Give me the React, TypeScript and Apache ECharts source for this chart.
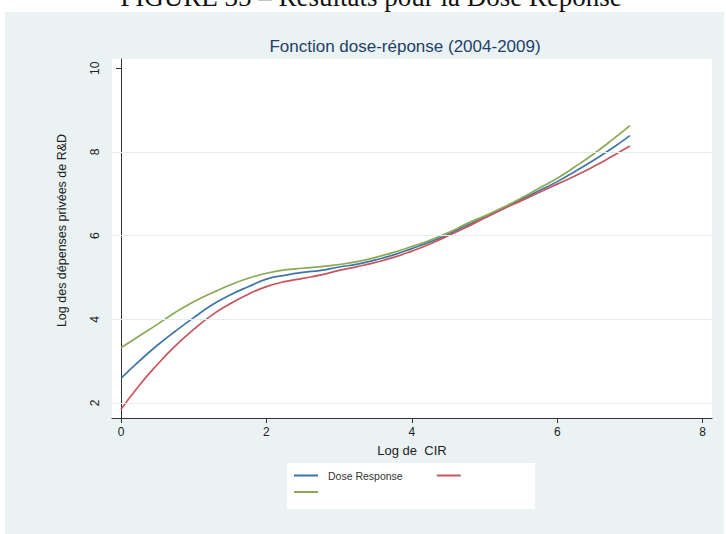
import React, { useEffect, useRef } from "react";
import * as echarts from "echarts";

const xs = [0, 0.25, 0.5, 0.75, 1, 1.25, 1.5, 1.75, 2, 2.25, 2.5, 2.75, 3, 3.25, 3.5, 3.75, 4, 4.25, 4.5, 4.75, 5, 5.25, 5.5, 5.75, 6, 6.25, 6.5, 6.75, 7];

const doseResponse = [2.59, 3.0, 3.38, 3.72, 4.04, 4.34, 4.58, 4.78, 4.96, 5.05, 5.12, 5.17, 5.25, 5.32, 5.42, 5.54, 5.69, 5.85, 6.03, 6.24, 6.43, 6.64, 6.86, 7.07, 7.29, 7.54, 7.8, 8.08, 8.39];
const lowerBound = [1.85, 2.42, 2.92, 3.37, 3.76, 4.1, 4.37, 4.6, 4.78, 4.9, 4.98, 5.06, 5.17, 5.26, 5.36, 5.48, 5.63, 5.8, 6.0, 6.2, 6.42, 6.63, 6.83, 7.03, 7.23, 7.43, 7.65, 7.89, 8.14];
const upperBound = [3.32, 3.6, 3.88, 4.17, 4.42, 4.63, 4.82, 4.98, 5.1, 5.18, 5.22, 5.26, 5.31, 5.38, 5.48, 5.6, 5.74, 5.89, 6.07, 6.28, 6.47, 6.67, 6.89, 7.13, 7.37, 7.65, 7.95, 8.28, 8.63];

const xTicks = [0, 2, 4, 6, 8];
const yTicks = [2, 4, 6, 8, 10];
const yGridValues = [2, 4, 6, 8];

const seriesNames = ["Dose Response", "Borne inférieure", "Borne supérieure"];
const seriesColors = ["#3f76a6", "#c6565d", "#8aa956"];

const pairs = (ys: number[]) => xs.map((x, i) => [x, ys[i]]);

export default function App() {
  const ref = useRef<HTMLDivElement>(null);
  useEffect(() => {
    if (!ref.current) return;
    const chart = echarts.init(ref.current, null, { renderer: "svg" });
    const font = "'Liberation Sans', Arial, Helvetica, sans-serif";
    const lineSeries = [doseResponse, lowerBound, upperBound].map((ys, i) => ({
      name: seriesNames[i],
      type: "line",
      data: pairs(ys),
      smooth: true,
      showSymbol: false,
      symbol: "none",
      z: 3,
      lineStyle: { color: seriesColors[i], width: 1.7 },
      itemStyle: { color: seriesColors[i] },
    }));
    chart.setOption({
      animation: false,
      backgroundColor: "#ffffff",
      title: {
        text: "Fonction dose-réponse (2004-2009)",
        left: 400,
        top: 33,
        textAlign: "center",
        textStyle: { fontFamily: font, fontSize: 17, fontWeight: "normal", color: "#243f69" },
      },
      graphic: [
        {
          type: "rect",
          z: -1,
          shape: { x: 5, y: 12, width: 719, height: 522 },
          style: { fill: "#eaf2f3" },
        },
        {
          type: "text",
          z: 1,
          x: 371,
          y: -3,
          style: {
            text: "FIGURE 35 – Résultats pour la Dose Réponse",
            font: "27px 'Liberation Serif', 'DejaVu Serif', serif",
            fill: "#111",
            textAlign: "center",
            textVerticalAlign: "middle",
          },
        },
        {
          type: "rect",
          z: 1,
          shape: { x: 287, y: 463, width: 248, height: 46 },
          style: { fill: "#ffffff" },
        },
      ],
      legend: [
        {
          data: [seriesNames[0], seriesNames[1]],
          left: 294,
          top: 470,
          padding: 0,
          itemGap: 34,
          itemWidth: 24,
          itemHeight: 2,
          icon: "rect",
          selectedMode: false,
          formatter: (n: string) => (n === seriesNames[0] ? n : ""),
          textStyle: { fontFamily: font, fontSize: 10.5, color: "#333", padding: [0, 0, 0, 5] },
        },
        {
          data: [seriesNames[2]],
          left: 294,
          top: 491,
          padding: 0,
          itemWidth: 24,
          itemHeight: 2,
          icon: "rect",
          selectedMode: false,
          formatter: () => "",
          textStyle: { fontFamily: font, fontSize: 10.5, color: "#333" },
        },
      ],
      grid: {
        left: 112,
        top: 59,
        width: 600,
        height: 359,
        show: true,
        backgroundColor: "#ffffff",
        borderWidth: 0,
        containLabel: false,
      },
      xAxis: {
        type: "value",
        min: -0.124,
        max: 8.129,
        name: "Log de  CIR",
        nameLocation: "middle",
        nameGap: 26,
        nameTextStyle: { fontFamily: font, fontSize: 13, color: "#222" },
        axisLine: { show: true, lineStyle: { color: "#333", width: 1 } },
        axisTick: { show: true, length: 5, customValues: xTicks, lineStyle: { color: "#333" } },
        axisLabel: { customValues: xTicks, margin: 8, fontFamily: font, fontSize: 12, color: "#222" },
        splitLine: { show: false },
      },
      yAxis: {
        type: "value",
        min: 1.642,
        max: 10.22,
        name: "Log des dépenses privées de R&D",
        nameLocation: "middle",
        nameGap: 44,
        nameRotate: 90,
        nameTextStyle: { fontFamily: font, fontSize: 12.5, color: "#222", padding: [0, 0, 0, 16] },
        axisLine: { show: true, lineStyle: { color: "#333", width: 1 } },
        axisTick: { show: true, length: 5, customValues: yTicks, lineStyle: { color: "#333" } },
        axisLabel: { customValues: yTicks, rotate: 90, margin: 11, fontFamily: font, fontSize: 12, color: "#222" },
        splitLine: { show: false },
      },
      series: [
        {
          name: "grid",
          type: "line",
          data: [],
          z: 1,
          silent: true,
          markLine: {
            silent: true,
            symbol: "none",
            label: { show: false },
            lineStyle: { color: "#e4eeef", width: 1, type: "solid" },
            data: yGridValues.map((v) => ({ yAxis: v })),
          },
        },
        ...lineSeries,
      ],
    });
    return () => chart.dispose();
  }, []);
  return <div ref={ref} style={{ position: "fixed", left: 0, top: 0, width: 726, height: 534 }} />;
}
